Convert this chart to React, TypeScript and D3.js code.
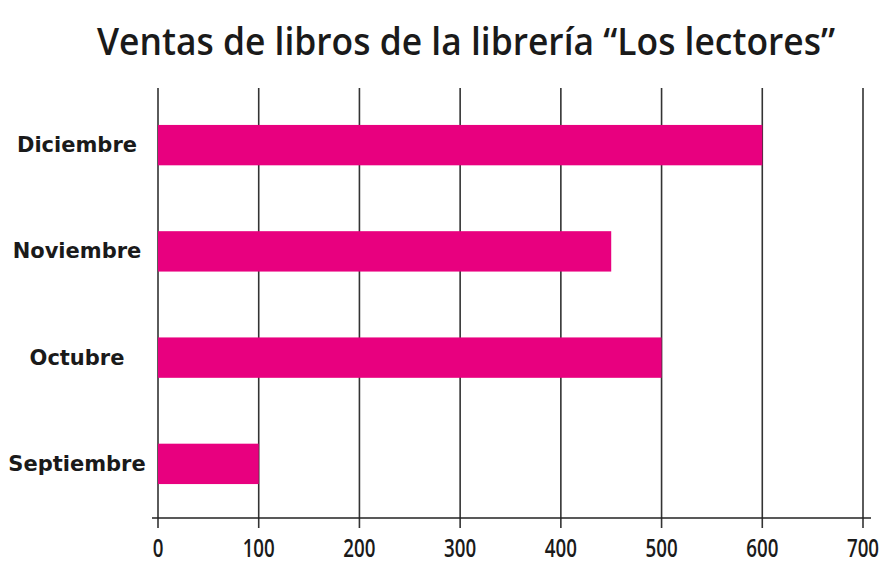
import React from "react";
import * as d3 from "d3";

const title = "Ventas de libros de la librería “Los lectores”";
const months = ["Diciembre", "Noviembre", "Octubre", "Septiembre"];
const sales = [600, 450, 500, 100];
const ticks = [0, 100, 200, 300, 400, 500, 600, 700];

const W = 884;
const H = 565;

export default function App() {
  const x = d3.scaleLinear().domain([0, 700]).range([158, 863]);
  const y = d3.scaleBand().domain(months).range([92, 517]).paddingInner(0.62).paddingOuter(0.31);
  const gridTop = 88;
  const axisY = 518;
  return (
    <svg width={W} height={H} style={{ position: "absolute", left: 0, top: 0, background: "#fff" }}>
      <text x={466} y={55} textAnchor="middle" fontFamily="'Open Sans', Lato, sans-serif" fontWeight={600}
        fontSize={37} fill="#1a1a1a" textLength={738} lengthAdjust="spacingAndGlyphs">{title}</text>
      {ticks.map((t) => (
        <line key={"g" + t} x1={x(t)} x2={x(t)} y1={gridTop} y2={axisY + 10} stroke="#333" strokeWidth={1.6} />
      ))}
      {months.map((m, i) => (
        <rect key={m} x={x(0)} y={y(m)} width={x(sales[i]) - x(0)} height={y.bandwidth()} fill="#E8007F" />
      ))}
      <line x1={152} x2={871} y1={axisY} y2={axisY} stroke="#222" strokeWidth={1.6} />
      {ticks.map((t) => (
        <text key={"t" + t} x={x(t)} y={557} textAnchor="middle" fontFamily="'Open Sans', sans-serif" fontWeight={600}
          fontSize={25} fill="#1a1a1a" style={{ transform: "scaleX(0.75)", transformBox: "fill-box", transformOrigin: "center" }}>{t}</text>
      ))}
      {months.map((m) => (
        <text key={"l" + m} x={77} y={(y(m) as number) + y.bandwidth() / 2 + 7} textAnchor="middle"
          fontFamily="'DejaVu Sans', sans-serif" fontWeight={700} fontSize={21} fill="#1a1a1a">{m}</text>
      ))}
    </svg>
  );
}
